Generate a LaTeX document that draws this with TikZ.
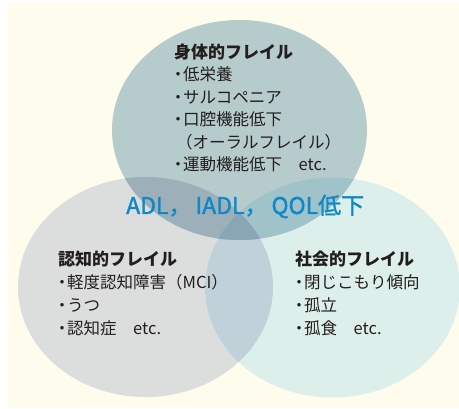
\documentclass[tikz,border=0pt]{standalone}
\usepackage{fontspec}
\setmainfont{Noto Sans CJK JP}
\newfontfamily\bluefont[FakeBold=1.6]{Noto Sans CJK JP}
\definecolor{cream}{HTML}{FEFCEC}
\definecolor{topc}{HTML}{B6CBCB}
\definecolor{leftc}{HTML}{DCDDDD}
\definecolor{rightc}{HTML}{DDEFEA}
\definecolor{tlc}{HTML}{9DAFB9}
\definecolor{trc}{HTML}{A0C3C9}
\definecolor{lrc}{HTML}{C0D1DA}
\definecolor{allc}{HTML}{8AA5B5}
\definecolor{ink}{RGB}{35,30,30}
\definecolor{blueink}{RGB}{15,136,200}
\newcommand{\bul}{\makebox[10pt][c]{・}}
\tikzset{
  ttl/.style={anchor=base west, inner sep=0pt, text=ink, font=\fontsize{17}{20}\selectfont\bfseries},
  itm/.style={anchor=base west, inner sep=0pt, text=ink, font=\fontsize{16.5}{20}\selectfont},
  big/.style={anchor=base west, inner sep=0pt, text=blueink, font=\fontsize{23}{26}\selectfont\bluefont},
  ell/.style={x radius=127.5pt, y radius=110pt}
}
\begin{document}
\begin{tikzpicture}[x=1pt,y=-1pt]
\useasboundingbox (0,0) rectangle (459,409);
\fill[cream] (8,3) rectangle (459,408);
\coordinate (ct) at (239.5,130);
\coordinate (cl) at (145.5,287);
\coordinate (cr) at (332.5,287.5);
% base fills
\fill[leftc] (cl) ellipse [ell];
\fill[rightc] (cr) ellipse [ell];
\begin{scope}
  \clip (cl) ellipse [ell];
  \fill[lrc] (cr) ellipse [ell];
\end{scope}
\fill[topc] (ct) ellipse [ell];
\begin{scope}
  \clip (ct) ellipse [ell];
  \fill[tlc] (cl) ellipse [ell];
  \fill[trc] (cr) ellipse [ell];
  \clip (cl) ellipse [ell];
  \fill[allc] (cr) ellipse [ell];
\end{scope}
% top block
\node[ttl] (t0) at (174,59) {身体的フレイル};
\node[itm] (t1) at (173,81) {\bul 低栄養};
\node[itm] (t2) at (173,103.5) {\bul サルコペニア};
\node[itm] (t3) at (173,126) {\bul 口腔機能低下};
\node[itm] (t4) at (176,148.5) {（オーラルフレイル）};
\node[itm] (t5) at (173,171) {\bul 運動機能低下　etc.};
% center label
\node[big] (c0) at (126,214) {ADL，\hspace{4pt}IADL，\hspace{4pt}QOL低下};
% left block
\node[ttl] (l0) at (58,266) {認知的フレイル};
\node[itm] (l1) at (57,288.5) {\bul 軽度認知障害（MCI）};
\node[itm] (l2) at (57,311.5) {\bul うつ};
\node[itm] (l3) at (57,335) {\bul 認知症　etc.};
% right block
\node[ttl] (r0) at (295,266) {社会的フレイル};
\node[itm] (r1) at (294,288.5) {\bul 閉じこもり傾向};
\node[itm] (r2) at (294,311.5) {\bul 孤立};
\node[itm] (r3) at (294,335) {\bul 孤食　etc.};
\end{tikzpicture}
\end{document}
